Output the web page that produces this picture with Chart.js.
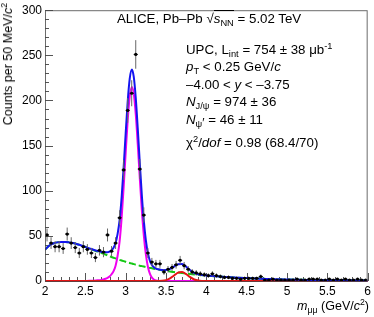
<!DOCTYPE html>
<html>
<head>
<meta charset="utf-8">
<script src="https://cdn.jsdelivr.net/npm/chart.js@4.4.1/dist/chart.umd.min.js"></script>
<style>
  html, body { margin: 0; padding: 0; background: #fff; }
  #wrap { position: relative; width: 374px; height: 317px; font-family: "Liberation Sans", Arial, sans-serif; color: #000; }
  #wrap canvas { position: absolute; left: 0; top: 0; }
  .txt { position: absolute; white-space: nowrap; font-size: 13.3px; line-height: 15px; }
  .txt sub, .txt sup { font-size: 70%; line-height: 0; }
  .txt sub { vertical-align: -0.3em; }
  .txt sup { vertical-align: 0.55em; }
  .ol { border-top: 1px solid #000; }
  .pr { font-size: 130%; }
  #ytitle { left: 1px; top: 3px; font-size: 12.5px; transform-origin: 0 0; transform: rotate(-90deg) translateX(-100%); }
  #xtitle { right: 5px; top: 299px; font-size: 12.5px; }
</style>
</head>
<body>
<div id="wrap">
  <canvas id="massPlot" width="374" height="317"></canvas>
  <div class="txt" style="left:117px; top:11px">ALICE, Pb&ndash;Pb <span>&radic;<span class="ol"><i>s</i><sub>NN</sub></span></span> = 5.02 TeV</div>
  <div class="txt" style="left:186px; top:42px">UPC, L<sub>int</sub> = 754 &plusmn; 38 &mu;b<sup>-1</sup></div>
  <div class="txt" style="left:186px; top:59px"><i>p</i><sub>T</sub> &lt; 0.25 GeV/<i>c</i></div>
  <div class="txt" style="left:186px; top:77px">&ndash;4.00 &lt; <i>y</i> &lt; &ndash;3.75</div>
  <div class="txt" style="left:186px; top:94px"><i>N</i><sub>J/&psi;</sub> = 974 &plusmn; 36</div>
  <div class="txt" style="left:186px; top:112px"><i>N</i><sub>&psi;<span class="pr">&#8242;</span></sub> = 46 &plusmn; 11</div>
  <div class="txt" style="left:186px; top:135px">&chi;<sup>2</sup>/<i>dof</i> = 0.98 (68.4/70)</div>
  <div class="txt" id="ytitle">Counts per 50 MeV/<i>c</i><sup>2</sup></div>
  <div class="txt" id="xtitle"><i>m</i><sub>&mu;&mu;</sub> (GeV/<i>c</i><sup>2</sup>)</div>
</div>
<script>
// dimuon invariant mass histogram, 50 MeV bins
const binCenters = [
  2.025, 2.075, 2.125, 2.175, 2.225, 2.275, 2.325, 2.375, 2.425, 2.475,
  2.525, 2.575, 2.625, 2.675, 2.725, 2.775, 2.825, 2.875, 2.925, 2.975,
  3.025, 3.075, 3.125, 3.175, 3.225, 3.275, 3.325, 3.375, 3.425, 3.475,
  3.525, 3.575, 3.625, 3.675, 3.725, 3.775, 3.825, 3.875, 3.925, 3.975,
  4.025, 4.075, 4.125, 4.175, 4.225, 4.275, 4.325, 4.375, 4.425, 4.475,
  4.525, 4.575, 4.625, 4.675, 4.725, 4.775, 4.825, 4.875, 4.925, 4.975,
  5.025, 5.075, 5.125, 5.175, 5.225, 5.275, 5.325, 5.375, 5.425, 5.475,
  5.525, 5.575, 5.625, 5.675, 5.725, 5.775, 5.825, 5.875, 5.925, 5.975
]
const counts = [
  51, 42, 38, 38, 36, 52, 42, 37, 31, 38,
  35, 31, 26, 34, 32, 51, 33, 42, 70, 123,
  189, 208, 251, 124, 73, 31, 21, 19, 19, 10,
  13, 15, 18, 23, 17, 13, 10, 9, 8, 7,
  6, 8, 6, 5, 4, 4, 3, 3, 2, 3,
  3, 3, 3, 5, 1, 1, 2, 1, 1, 1,
  1, 1, 2, 1, 1, 2, 2, 2, 1, 1,
  2, 1, 2, 1, 2, 1, 1, 2, 1, 1
]

// fit curves
const curveX = [
  2.00, 2.05, 2.10, 2.15, 2.20, 2.25, 2.30, 2.35, 2.40, 2.45, 2.50, 2.55, 2.60, 2.65, 2.70,
  2.725, 2.75, 2.775, 2.80, 2.825, 2.85, 2.875, 2.90, 2.925, 2.95, 2.975, 3.00, 3.025, 3.05,
  3.077,
  3.10, 3.125, 3.15, 3.175, 3.20, 3.225, 3.25, 3.275, 3.30, 3.325, 3.35, 3.375, 3.40,
  3.45, 3.50, 3.55, 3.60, 3.65, 3.70, 3.75, 3.80, 3.85, 3.90, 3.95, 4.00,
  4.10, 4.20, 4.30, 4.40, 4.50, 4.60,
  4.75, 5.00, 5.25, 5.50, 5.75, 6.00
]
const totalFit = [
  34.5, 39, 41.5, 42.8, 43.3, 43.3, 42.8, 42, 40.8, 39.3, 37.8, 36.2, 34.6, 33.2, 32.2,
  32.1, 31.9, 31.9, 32.5, 34.1, 36.8, 42, 52.2, 67.4, 92.7, 126, 163.3, 198.6, 224,
  234.3,
  226.3, 202.8, 168.8, 131, 95.6, 66.6, 45.3, 31.1, 22.6, 17.8, 15.2, 13.8, 13.05,
  12.25, 12.3, 13.5, 16, 18.5, 18.7, 15.8, 11.9, 9, 7.3, 6.5, 6.0,
  5.3, 4.7, 4.1, 3.6, 3.2, 2.8,
  2.3, 1.7, 1.2, 0.9, 0.7, 0.5
]
const jpsiFit = [
  0, 0, 0, 0, 0, 0, 0, 0, 0, 0, 0.1, 0.2, 0.4, 0.7, 1.2,
  1.8, 2.5, 3.5, 5, 7.5, 11, 17, 28, 44, 70, 104, 142, 178, 204,
  215,
  207.6, 184.7, 151.2, 114, 79.1, 50.6, 29.8, 16.1, 8.1, 3.7, 1.6, 0.6, 0.2,
  0, 0, 0, 0, 0, 0, 0, 0, 0, 0, 0, 0,
  0, 0, 0, 0, 0, 0,
  0, 0, 0, 0, 0, 0
]
const psi2sFit = [
  0, 0, 0, 0, 0, 0, 0, 0, 0, 0, 0, 0, 0, 0, 0,
  0, 0, 0, 0, 0, 0, 0, 0, 0, 0, 0, 0, 0, 0,
  0,
  0, 0, 0, 0, 0, 0, 0, 0, 0, 0, 0, 0, 0.05,
  0.25, 1.0, 2.9, 6.1, 9.2, 9.9, 7.6, 4.2, 1.7, 0.5, 0.1, 0,
  0, 0, 0, 0, 0, 0,
  0, 0, 0, 0, 0, 0
]
const bkgFit = [
  34.5, 39, 41.5, 42.8, 43.3, 43.3, 42.8, 42, 40.8, 39.3, 37.7, 36.0, 34.2, 32.5, 31.0,
  30.3, 29.35, 28.4, 27.5, 26.6, 25.8, 25.0, 24.2, 23.4, 22.7, 22.0, 21.3, 20.6, 20.0,
  19.3,
  18.7, 18.1, 17.6, 17.0, 16.5, 16.0, 15.5, 15.0, 14.5, 14.1, 13.6, 13.2, 12.8,
  12.0, 11.3, 10.6, 9.9, 9.3, 8.8, 8.2, 7.7, 7.3, 6.8, 6.4, 6.0,
  5.3, 4.7, 4.1, 3.6, 3.2, 2.8,
  2.3, 1.7, 1.2, 0.9, 0.7, 0.5
]

const xTickValues = [2, 2.5, 3, 3.5, 4, 4.5, 5, 5.5, 6]
const yTickValues = [0, 50, 100, 150, 200, 250, 300]

const pts = (xs, ys) => xs.map((x, i) => ({ x: x, y: ys[i] }))

// error bars as broken line segments
const yErr = []
const xErr = []
binCenters.forEach((m, i) => {
  const n = counts[i]
  const e = Math.sqrt(n)
  yErr.push({ x: m, y: n - e }, { x: m, y: n + e }, { x: m, y: null })
  xErr.push({ x: m - 0.025, y: n }, { x: m + 0.025, y: n }, { x: m, y: null })
})

// ROOT-style frame with inner ticks
const frameTicks = {
  id: 'frameTicks',
  beforeDatasetsDraw(chart) {
    const { ctx, chartArea: a, scales } = chart
    ctx.save()
    ctx.strokeStyle = '#555'
    ctx.lineWidth = 1
    ctx.beginPath()
    for (let i = 0; i <= 40; i++) {
      const px = Math.round(scales.x.getPixelForValue(2 + i * 0.1)) + 0.5
      const len = i % 5 === 0 ? 8 : 4
      ctx.moveTo(px, a.bottom)
      ctx.lineTo(px, a.bottom - len)
    }
    for (let i = 0; i <= 30; i++) {
      const py = Math.round(scales.y.getPixelForValue(i * 10)) + 0.5
      const len = i % 5 === 0 ? 8 : 4
      ctx.moveTo(a.left, py)
      ctx.lineTo(a.left + len, py)
    }
    ctx.stroke()
    ctx.restore()
  },
  afterDatasetsDraw(chart) {
    const { ctx, chartArea: a } = chart
    ctx.save()
    ctx.strokeStyle = 'rgba(70,70,70,0.8)'
    ctx.lineWidth = 1
    ctx.strokeRect(a.left + 0.5, a.top + 0.5, a.right - a.left - 1, a.bottom - a.top)
    ctx.restore()
  }
}

const curve = (label, ys, color, order, extra) => Object.assign({
  label: label,
  data: pts(curveX, ys),
  showLine: true,
  borderColor: color,
  borderWidth: 2,
  pointRadius: 0,
  pointHitRadius: 0,
  cubicInterpolationMode: 'monotone',
  clip: { left: 0, top: 0, right: 0, bottom: 2 },
  order: order
}, extra || {})

Chart.defaults.font.family = '"Liberation Sans", Arial, sans-serif'
Chart.defaults.font.size = 12
Chart.defaults.color = '#000'

new Chart(document.getElementById('massPlot'), {
  type: 'scatter',
  data: {
    datasets: [
      {
        label: 'data',
        data: pts(binCenters, counts),
        pointRadius: 1.6,
        pointBackgroundColor: '#000',
        pointBorderWidth: 0,
        order: 0
      },
      {
        label: 'xerr',
        data: xErr,
        showLine: true,
        borderColor: '#000',
        borderWidth: 1,
        pointRadius: 0,
        spanGaps: false,
        order: 1
      },
      {
        label: 'yerr',
        data: yErr,
        showLine: true,
        borderColor: '#666',
        borderWidth: 1,
        pointRadius: 0,
        spanGaps: false,
        order: 1
      },
      curve('total', totalFit, 'rgb(20,20,240)', 2),
      curve('psi2s', psi2sFit, 'rgb(230,20,20)', 3),
      curve('jpsi', jpsiFit, 'rgb(240,0,240)', 4),
      curve('bkg', bkgFit, 'rgb(20,200,20)', 5, { borderDash: [7, 3] })
    ]
  },
  options: {
    responsive: false,
    animation: false,
    devicePixelRatio: 1,
    layout: { padding: { top: 5, right: 5, left: 0, bottom: 0 } },
    plugins: { legend: { display: false }, tooltip: { enabled: false } },
    events: [],
    scales: {
      x: {
        type: 'linear',
        min: 2,
        max: 6,
        afterBuildTicks: (s) => { s.ticks = xTickValues.map(v => ({ value: v })) },
        afterFit: (s) => { s.height = 36 },
        ticks: { padding: 3, maxRotation: 0, autoSkip: false, callback: (v) => String(v) },
        grid: { display: false, drawTicks: false },
        border: { display: false }
      },
      y: {
        min: 0,
        max: 300,
        afterBuildTicks: (s) => { s.ticks = yTickValues.map(v => ({ value: v })) },
        afterFit: (s) => { s.width = 45 },
        ticks: { padding: 3, callback: (v) => String(v) },
        grid: { display: false, drawTicks: false },
        border: { display: false }
      }
    }
  },
  plugins: [frameTicks]
})
</script>
</body>
</html>
